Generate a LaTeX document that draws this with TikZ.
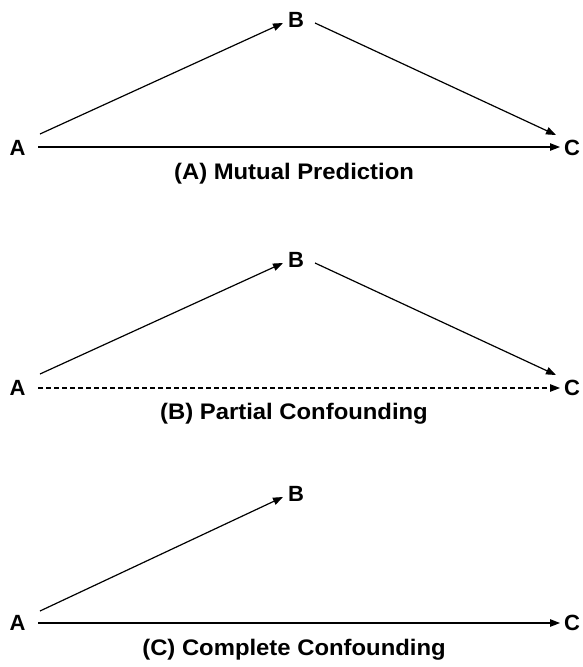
\documentclass[tikz,border=0pt]{standalone}
\usepackage{fontspec}
\setmainfont{Liberation Sans}
\newfontfamily\capfont[FakeStretch=1.06]{Liberation Sans}
\usetikzlibrary{arrows.meta}
\begin{document}
\begin{tikzpicture}[x=1pt,y=-1pt,
  lbl/.style={font=\fontsize{22}{24}\selectfont\bfseries, inner sep=0pt},
  captxt/.style={font=\capfont\fontsize{22.5}{24}\selectfont\bfseries, inner sep=0pt},
  arr/.style={line width=1.2pt, -{Triangle[length=10pt,width=7.5pt]}}]
\useasboundingbox (0,0) rectangle (582,667);
% Panel A
\node[lbl] (a1) at (17.5,148) {A};
\node[lbl] (b1) at (296,20) {B};
\node[lbl] (c1) at (572,148) {C};
\node[captxt] (t1) at (294,174) {(A) Mutual Prediction};
\draw[arr] ([shift={(22.5,-14)}]a1.center) -- ([shift={(-13,3)}]b1.center);
\draw[arr] ([shift={(19,3)}]b1.center) -- ([shift={(-16,-13)}]c1.center);
\draw[arr] ([shift={(20.5,-1)}]a1.center) -- ([shift={(-12,-1)}]c1.center);
% Panel B
\node[lbl] (a2) at (17.5,388) {A};
\node[lbl] (b2) at (296,260) {B};
\node[lbl] (c2) at (572,388) {C};
\node[captxt] (t2) at (294,414) {(B) Partial Confounding};
\draw[arr] ([shift={(22.5,-14)}]a2.center) -- ([shift={(-13,3)}]b2.center);
\draw[arr] ([shift={(19,3)}]b2.center) -- ([shift={(-16,-13)}]c2.center);
\draw[arr, dash pattern=on 5pt off 3pt] ([shift={(20.5,0)}]a2.center) -- ([shift={(-12,0)}]c2.center);
% Panel C
\node[lbl] (a3) at (17.5,623) {A};
\node[lbl] (b3) at (296,494) {B};
\node[lbl] (c3) at (572,623) {C};
\node[captxt] (t3) at (294,650) {(C) Complete Confounding};
\draw[arr] ([shift={(22.5,-12)}]a3.center) -- ([shift={(-13,3)}]b3.center);
\draw[arr] ([shift={(20.5,0)}]a3.center) -- ([shift={(-12,0)}]c3.center);
\end{tikzpicture}
\end{document}
